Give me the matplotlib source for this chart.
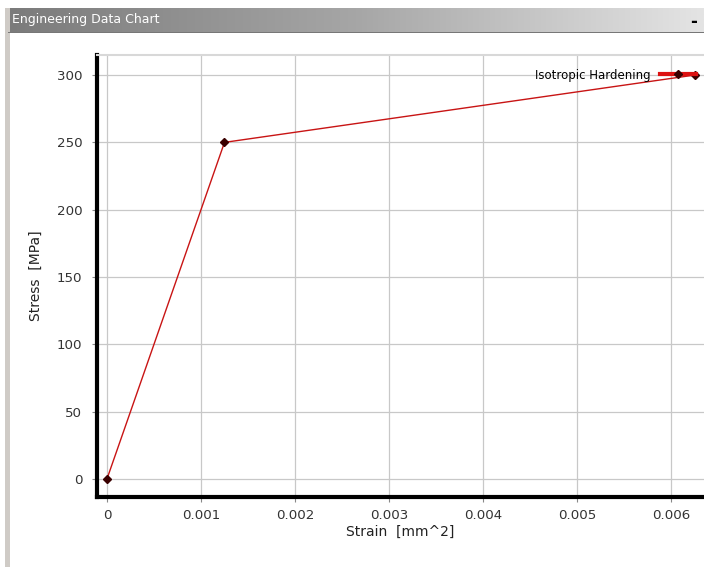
import numpy as np
import matplotlib
matplotlib.use("Agg")
import matplotlib.pyplot as plt
from matplotlib.lines import Line2D
from matplotlib.colors import LinearSegmentedColormap

# data
strain = [0.0, 0.00125, 0.00625]
stress = [0.0, 250.0, 300.0]
series_name = "Isotropic Hardening"
xticks = [0, 0.001, 0.002, 0.003, 0.004, 0.005, 0.006]
xticklabels = ["0", "0.001", "0.002", "0.003", "0.004", "0.005", "0.006"]
yticks = [0, 50, 100, 150, 200, 250, 300]
title = "Engineering Data Chart"

W, H = 704, 567
fig = plt.figure(figsize=(W / 100, H / 100), dpi=100)
fig.patch.set_facecolor("white")

# window frame: left border strip
fig.patches.append(plt.Rectangle((5 / W, 0), 5 / W, 1 - 8 / H, transform=fig.transFigure,
                                 facecolor="#cfcbc6", edgecolor="none", zorder=0))
# title bar gradient
tb = fig.add_axes([8 / W, 1 - 32 / H, 1 - 8 / W, 24 / H])
grad = np.linspace(0, 1, 256)[None, :]
cm = LinearSegmentedColormap.from_list("tb", ["#7b7b7b", "#a6a6a6", "#e4e4e4"])
tb.imshow(grad, aspect="auto", cmap=cm, extent=[0, 1, 0, 1])
tb.set_axis_off()
tb.text(0.006, 0.5, title, color="white", fontsize=9, va="center", ha="left",
        family="Liberation Sans Narrow")
tb.text(0.985, 0.42, "-", color="black", fontsize=12, fontweight="bold", va="center", ha="center")
fig.patches.append(plt.Rectangle((8 / W, 1 - 33 / H), 1, 1.2 / H, transform=fig.transFigure,
                                 facecolor="#777777", edgecolor="none", zorder=1))

ax = fig.add_axes([97 / W, 1 - 497 / H, 1 - 97 / W, (497 - 55) / H])
ax.set_xlim(-0.000106, 0.00635)
ax.set_ylim(-13.4, 314.9)
ax.plot(strain, stress, color="#c81414", lw=1.0, marker="D", markersize=4.5,
        markerfacecolor="#3a0000", markeredgecolor="#3a0000", zorder=3)

ax.set_xticks(xticks)
ax.set_xticklabels(xticklabels)
ax.set_yticks(yticks)
ax.grid(True, color="#c8c8c8", lw=0.9)
ax.set_axisbelow(True)
ax.spines["right"].set_visible(False)
ax.spines["top"].set_color("#d8d8d8")
ax.spines["top"].set_linewidth(1.5)
ax.spines["left"].set_linewidth(3)
ax.spines["bottom"].set_linewidth(3)
ax.tick_params(axis="both", labelsize=9.6, labelcolor="#333333", color="#888888",
               length=3.5, width=0.8, direction="out")
ax.tick_params(axis="y", pad=7)
ax.tick_params(axis="x", pad=5)
ax.set_xlabel("Strain  [mm^2]", fontsize=10, labelpad=2, color="#222222")
ax.set_ylabel("Stress  [MPa]", fontsize=10, labelpad=10, color="#222222")

handle = Line2D([0], [0], color="#dd1111", lw=3, marker="D", markersize=4,
                markerfacecolor="#3a0000", markeredgecolor="#3a0000")
ax.legend([handle], [series_name], loc="center right",
          bbox_to_anchor=(1.0, (300 + 13.4) / (314.9 + 13.4)),
          frameon=False, markerfirst=False, fontsize=8.5, handlelength=3.0,
          handletextpad=0.8, borderaxespad=0.3)

fig.savefig("out.png", dpi=100)
